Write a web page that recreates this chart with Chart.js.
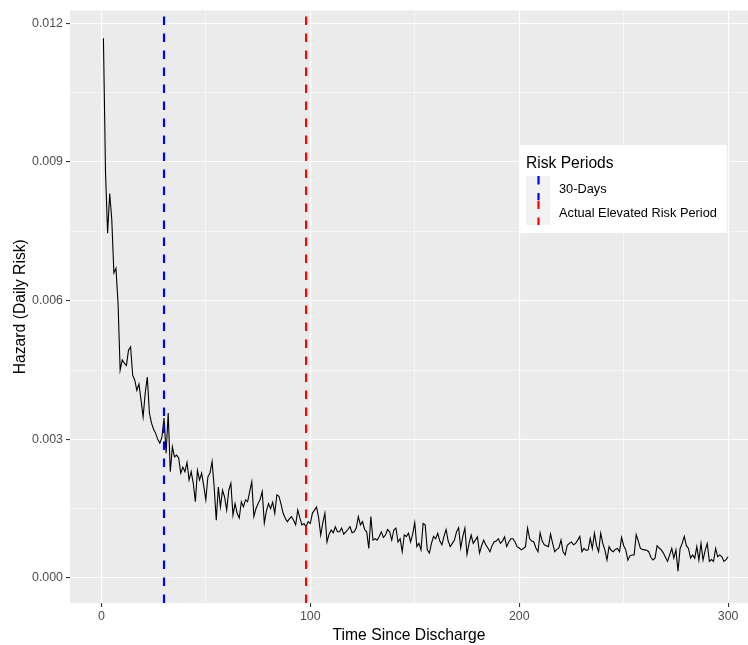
<!DOCTYPE html>
<html>
<head>
<meta charset="utf-8">
<script src="https://cdn.jsdelivr.net/npm/chart.js@4.4.1/dist/chart.umd.min.js"></script>
<style>
  body { margin: 0; background: #ffffff; }
  #chart { display: block; }
</style>
</head>
<body>
<canvas id="chart" width="748" height="645"></canvas>
<script>
// Data: daily hazard after discharge (days 1..300)
const days = [];
for (let d = 1; d <= 300; d++) days.push(d);

const hazard = [
  0.01168, 0.00878, 0.00746, 0.00832, 0.00775, 0.00660, 0.00670, 0.00594, 0.00450, 0.00472,
  0.00465, 0.00460, 0.00493, 0.00500, 0.00439, 0.00428, 0.00406, 0.00420, 0.00385, 0.00349,
  0.00400, 0.00435, 0.00357, 0.00335, 0.00322, 0.00313, 0.00300, 0.00292, 0.00305, 0.00346,
  0.00270, 0.00357, 0.00230, 0.00284, 0.00262, 0.00266, 0.00260, 0.00227, 0.00240, 0.00230,
  0.00250, 0.00212, 0.00230, 0.00205, 0.00165, 0.00233, 0.00212, 0.00227, 0.00200, 0.00169,
  0.00219, 0.00227, 0.00252, 0.00197, 0.00125, 0.00197, 0.00154, 0.00190, 0.00175, 0.00147,
  0.00190, 0.00205, 0.00136, 0.00161, 0.00140, 0.00130, 0.00165, 0.00154, 0.00169, 0.00165,
  0.00187, 0.00208, 0.00133, 0.00150, 0.00161, 0.00170, 0.00187, 0.00119, 0.00145, 0.00161,
  0.00150, 0.00164, 0.00140, 0.00180, 0.00177, 0.00160, 0.00140, 0.00130, 0.00122, 0.00128,
  0.00133, 0.00125, 0.00115, 0.00147, 0.00130, 0.00115, 0.00118, 0.00111, 0.00122, 0.00118,
  0.00140, 0.00147, 0.00154, 0.00130, 0.00093, 0.00120, 0.00140, 0.00078, 0.00095, 0.00104,
  0.00098, 0.00111, 0.00100, 0.00100, 0.00108, 0.00095, 0.00100, 0.00105, 0.00111, 0.00098,
  0.00100, 0.00108, 0.00133, 0.00115, 0.00122, 0.00105, 0.00100, 0.00064, 0.00133, 0.00082,
  0.00085, 0.00082, 0.00090, 0.00100, 0.00088, 0.00093, 0.00105, 0.00100, 0.00082, 0.00104,
  0.00108, 0.00078, 0.00085, 0.00057, 0.00093, 0.00090, 0.00097, 0.00078, 0.00095, 0.00120,
  0.00068, 0.00075, 0.00061, 0.00118, 0.00115, 0.00061, 0.00054, 0.00075, 0.00090, 0.00085,
  0.00097, 0.00080, 0.00072, 0.00090, 0.00105, 0.00080, 0.00068, 0.00075, 0.00082, 0.00100,
  0.00109, 0.00065, 0.00090, 0.00108, 0.00051, 0.00075, 0.00093, 0.00075, 0.00082, 0.00089,
  0.00054, 0.00070, 0.00082, 0.00072, 0.00065, 0.00057, 0.00070, 0.00078, 0.00080, 0.00085,
  0.00075, 0.00080, 0.00089, 0.00068, 0.00078, 0.00085, 0.00085, 0.00078, 0.00068, 0.00065,
  0.00061, 0.00064, 0.00068, 0.00108, 0.00085, 0.00080, 0.00078, 0.00065, 0.00057, 0.00098,
  0.00080, 0.00072, 0.00070, 0.00068, 0.00095, 0.00075, 0.00057, 0.00062, 0.00065, 0.00082,
  0.00057, 0.00050, 0.00071, 0.00075, 0.00078, 0.00072, 0.00075, 0.00082, 0.00090, 0.00057,
  0.00064, 0.00060, 0.00061, 0.00086, 0.00064, 0.00097, 0.00070, 0.00057, 0.00097, 0.00075,
  0.00061, 0.00039, 0.00068, 0.00060, 0.00057, 0.00062, 0.00064, 0.00057, 0.00088, 0.00070,
  0.00061, 0.00039, 0.00048, 0.00050, 0.00050, 0.00094, 0.00080, 0.00064, 0.00062, 0.00061,
  0.00060, 0.00057, 0.00045, 0.00039, 0.00043, 0.00070, 0.00065, 0.00061, 0.00054, 0.00045,
  0.00036, 0.00050, 0.00064, 0.00043, 0.00061, 0.00015, 0.00064, 0.00075, 0.00090, 0.00070,
  0.00064, 0.00043, 0.00050, 0.00043, 0.00068, 0.00039, 0.00075, 0.00039, 0.00060, 0.00075,
  0.00036, 0.00040, 0.00036, 0.00064, 0.00046, 0.00050, 0.00046, 0.00036, 0.00040, 0.00046
];

// Risk period markers
const periodLabels = ["30-Days", "Actual Elevated Risk Period"];
const periodDays = [30, 98];
const periodColors = ["#0000FF", "#FF0000"];

// Axis ticks (major + minor gridlines)
const xTicks = [0, 50, 100, 150, 200, 250, 300];
const xTickLabels = ["0", "", "100", "", "200", "", "300"];
const yTicks = [0, 0.0015, 0.003, 0.0045, 0.006, 0.0075, 0.009, 0.0105, 0.012];
const yTickLabels = ["0.000", "", "0.003", "", "0.006", "", "0.009", "", "0.012"];

const X_MIN = -15, X_MAX = 309.5;
const Y_MIN = -0.00054, Y_MAX = 0.01228;

const FONT = "'Liberation Sans', Arial, sans-serif";
const DASH = [8.5, 8.5];

// panel background like ggplot
const panelBg = {
  id: "panelBg",
  beforeDraw(chart) {
    const { ctx, chartArea: a } = chart;
    ctx.save();
    ctx.fillStyle = "#EBEBEB";
    ctx.fillRect(a.left, a.top, a.right - a.left, a.bottom - a.top);
    ctx.restore();
  }
};

// ggplot style legend inside the panel
const riskLegend = {
  id: "riskLegend",
  afterDraw(chart) {
    const ctx = chart.ctx;
    const bx = 519, by = 145, bw = 208, bh = 88;
    ctx.save();
    ctx.fillStyle = "#FFFFFF";
    ctx.fillRect(bx, by, bw, bh);

    ctx.fillStyle = "#000000";
    ctx.font = "15.6px " + FONT;
    ctx.textBaseline = "alphabetic";
    ctx.textAlign = "left";
    ctx.fillText("Risk Periods", 526, 168);

    const sets = chart.data.datasets.filter(ds => ds.isPeriod);
    sets.forEach((ds, i) => {
      const ky = 176 + i * 24.5;
      ctx.fillStyle = "#F2F2F2";
      ctx.fillRect(526, ky, 24.5, 24.5);
      ctx.save();
      ctx.beginPath();
      ctx.rect(526, ky, 24.5, 24.5);
      ctx.clip();
      ctx.strokeStyle = ds.borderColor;
      ctx.lineWidth = 2.2;
      ctx.setLineDash(DASH);
      ctx.beginPath();
      ctx.moveTo(538.5, ky);
      ctx.lineTo(538.5, ky + 24.5);
      ctx.stroke();
      ctx.restore();

      ctx.fillStyle = "#000000";
      ctx.font = "12.8px " + FONT;
      ctx.textBaseline = "middle";
      ctx.fillText(ds.label, 559, ky + 13);
    });
    ctx.restore();
  }
};

const periodSets = periodDays.map((d, i) => ({
  label: periodLabels[i],
  isPeriod: true,
  data: [{ x: d, y: Y_MIN }, { x: d, y: Y_MAX }],
  borderColor: periodColors[i],
  borderWidth: 2.2,
  borderDash: DASH,
  pointRadius: 0,
  order: 1
}));

new Chart(document.getElementById("chart"), {
  type: "line",
  data: {
    datasets: [
      {
        label: "Hazard",
        data: days.map((d, i) => ({ x: d, y: hazard[i] })),
        borderColor: "#000000",
        borderWidth: 1.1,
        pointRadius: 0,
        tension: 0,
        order: 2
      },
      ...periodSets
    ]
  },
  options: {
    responsive: false,
    animation: false,
    layout: { padding: { top: 10, right: 0, bottom: 0, left: 0 } },
    plugins: {
      legend: { display: false },
      tooltip: { enabled: false }
    },
    scales: {
      x: {
        type: "linear",
        min: X_MIN,
        max: X_MAX,
        afterBuildTicks: (s) => { s.ticks = xTicks.map(v => ({ value: v })); },
        afterFit: (s) => { s.height = 42; },
        border: { display: false },
        grid: {
          color: "#FFFFFF",
          lineWidth: (c) => (c.tick && c.tick.value % 100 === 0 ? 1.1 : 0.55),
          tickColor: (c) => (c.tick && c.tick.value % 100 === 0 ? "#333333" : "rgba(0,0,0,0)"),
          tickLength: 4,
          tickWidth: 1.1
        },
        ticks: {
          autoSkip: false,
          maxRotation: 0,
          padding: 2,
          color: "#4D4D4D",
          font: { family: FONT, size: 12.4 },
          callback: (v, i) => xTickLabels[i]
        },
        title: {
          display: true,
          text: "Time Since Discharge",
          color: "#000000",
          font: { family: FONT, size: 15.7 },
          padding: { top: 0, bottom: 0 }
        }
      },
      y: {
        type: "linear",
        min: Y_MIN,
        max: Y_MAX,
        afterBuildTicks: (s) => { s.ticks = yTicks.map(v => ({ value: v })); },
        afterFit: (s) => { s.width = 70; },
        border: { display: false },
        grid: {
          color: "#FFFFFF",
          lineWidth: (c) => (c.index % 2 === 0 ? 1.1 : 0.55),
          tickColor: (c) => (c.index % 2 === 0 ? "#333333" : "rgba(0,0,0,0)"),
          tickLength: 4,
          tickWidth: 1.1
        },
        ticks: {
          autoSkip: false,
          padding: 3,
          color: "#4D4D4D",
          font: { family: FONT, size: 12.4 },
          callback: (v, i) => yTickLabels[i]
        },
        title: {
          display: true,
          text: "Hazard (Daily Risk)",
          color: "#000000",
          font: { family: FONT, size: 15.7 },
          padding: { top: 11, bottom: 0 }
        }
      }
    }
  },
  plugins: [panelBg, riskLegend]
});
</script>
</body>
</html>
